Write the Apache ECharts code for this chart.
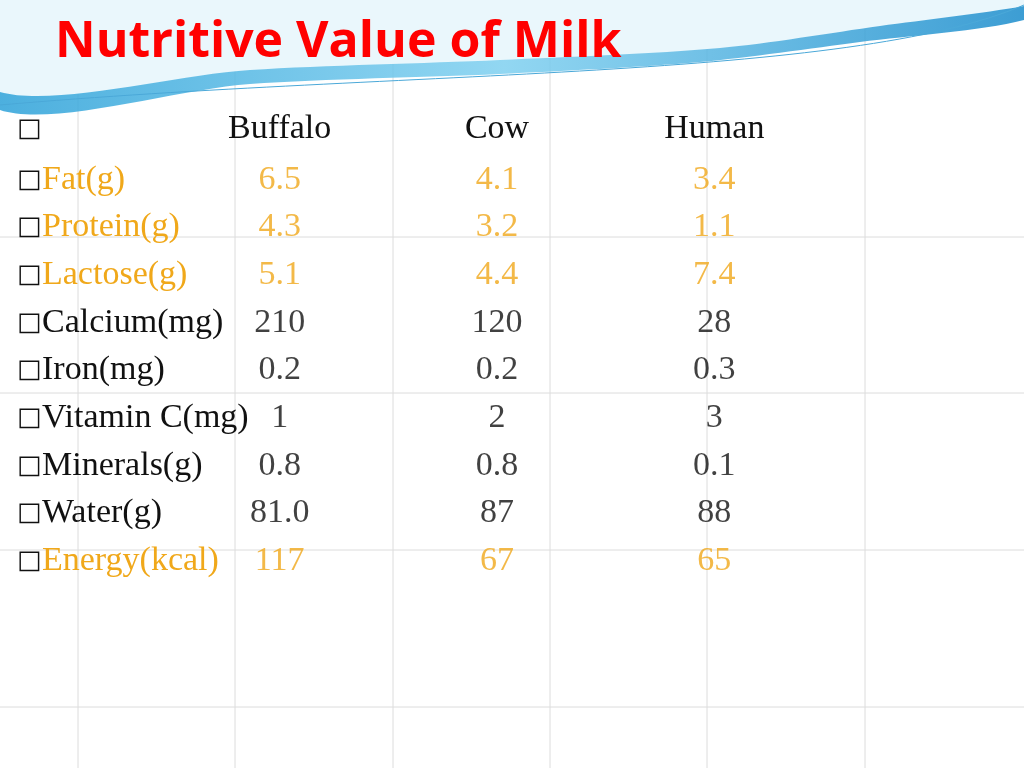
<!DOCTYPE html>
<html><head><meta charset="utf-8">
<script src="https://cdn.jsdelivr.net/npm/echarts@6/dist/echarts.min.js"></script>
<style>html,body{margin:0;padding:0;background:#fff}#c{width:1024px;height:768px}</style>
</head><body><div id="c"></div>
<script>
const title = 'Nutritive Value of Milk';
const columns = ['Buffalo', 'Cow', 'Human'];
const nutrients = ['Fat(g)', 'Protein(g)', 'Lactose(g)', 'Calcium(mg)', 'Iron(mg)', 'Vitamin C(mg)', 'Minerals(g)', 'Water(g)', 'Energy(kcal)'];
const buffalo = ['6.5', '4.3', '5.1', '210', '0.2', '1', '0.8', '81.0', '117'];
const cow = ['4.1', '3.2', '4.4', '120', '0.2', '2', '0.8', '87', '67'];
const human = ['3.4', '1.1', '7.4', '28', '0.3', '3', '0.1', '88', '65'];
const highlighted = ['Fat(g)', 'Protein(g)', 'Lactose(g)', 'Energy(kcal)'];

const ORANGE = '#f0a81a', BLACK = '#111';
const colorOf = n => highlighted.includes(n) ? ORANGE : BLACK;
const cols = [buffalo, cow, human];
const data = [];
cols.forEach((arr, ci) => arr.forEach((v, ri) => data.push({
  value: [ci, ri, v],
  label: { color: colorOf(nutrients[ri]) }
})));

const gridV = [78, 235, 393, 550, 707, 865], gridH = [237, 393, 550, 707];
const graphics = [];
gridV.forEach(x => graphics.push({type:'line', z:-10, shape:{x1:x,y1:0,x2:x,y2:768}, style:{stroke:'#dcdcdc', lineWidth:1}}));
gridH.forEach(y => graphics.push({type:'line', z:-10, shape:{x1:0,y1:y,x2:1024,y2:y}, style:{stroke:'#dcdcdc', lineWidth:1}}));
graphics.push({type:'polygon', z:-5, shape:{points:[[0,0],[1024,0],[1024,20],[860,42],[700,62],[500,74],[250,84],[0,110]], smooth:0.3},
  style:{fill:new echarts.graphic.LinearGradient(0,0,1,0,[{offset:0,color:'#2aa0d8'},{offset:0.5,color:'#7fd0f0'},{offset:1,color:'#1a8ccc'}]), opacity:0.85}});
graphics.push({type:'polygon', z:-4, shape:{points:[[0,0],[1024,0],[1024,6],[880,26],[720,48],[500,60],[250,70],[0,92]], smooth:0.3},
  style:{fill:'#eaf7fc'}});
graphics.push({type:'bezierCurve', z:-3, shape:{x1:0,y1:105,cpx1:400,cpy1:70,cpx2:850,cpy2:80,x2:1024,y2:5}, style:{fill:null, stroke:'#4aa8d8', lineWidth:1}});
graphics.push({type:'text', left:55, top:18, style:{text:title, fill:'#ff0000', font:'bold 50px "Open Sans", sans-serif'}});
graphics.push({type:'text', left:17, top:116, style:{text:'□', fill:BLACK, font:'26px "DejaVu Sans"'}});

const chart = echarts.init(document.getElementById('c'));
chart.setOption({
  animation:false,
  graphic: graphics,
  grid:{left:171, width:652, top:156, height:429},
  xAxis:{type:'category', data:columns, position:'top', axisLine:{show:false}, axisTick:{show:false}, splitLine:{show:false},
    axisLabel:{margin:10, color:BLACK, fontSize:34, fontFamily:'Liberation Serif'}},
  yAxis:{type:'category', data:nutrients, inverse:true, axisLine:{show:false}, axisTick:{show:false}, splitLine:{show:false},
    axisLabel:{align:'left', margin:154, fontSize:34, fontFamily:'Liberation Serif',
      formatter: n => '{b|□}{' + (highlighted.includes(n) ? 'o' : 'k') + '|' + n + '}',
      rich:{b:{fontSize:26, fontFamily:'DejaVu Sans', color:BLACK, width:25}, o:{color:ORANGE, fontSize:34, fontFamily:'Liberation Serif'}, k:{color:BLACK, fontSize:34, fontFamily:'Liberation Serif'}}}},
  series:[{type:'scatter', symbolSize:0, data:data,
    label:{show:true, position:'inside', fontSize:34, fontFamily:'Liberation Serif', formatter:p => p.value[2]}}]
});
</script></body></html>
